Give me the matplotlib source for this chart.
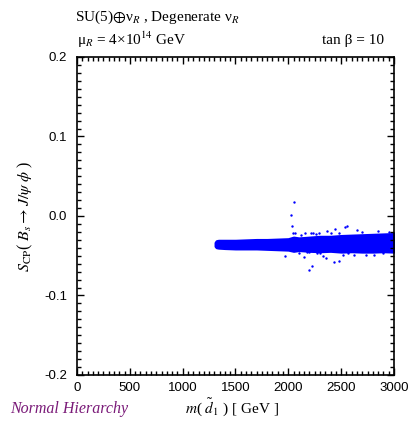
import matplotlib
matplotlib.use('Agg')
import matplotlib.pyplot as plt
from matplotlib.ticker import MultipleLocator

# envelope of the dense band of scan points
band_x = [1310, 1320, 1340, 1400, 1500, 1600, 1700, 1800, 1900, 2000, 2050, 2100, 2200,
          2300, 2400, 2500, 2600, 2700, 2800, 2900, 3000]
band_top = [-0.0335, -0.0315, -0.031, -0.031, -0.031, -0.0305, -0.030, -0.030, -0.0295,
            -0.029, -0.027, -0.028, -0.027, -0.026, -0.026, -0.025, -0.0245, -0.024,
            -0.0235, -0.023, -0.0225]
band_bot = [-0.0380, -0.0395, -0.040, -0.0405, -0.041, -0.041, -0.041, -0.0415, -0.042,
            -0.0425, -0.044, -0.043, -0.044, -0.0445, -0.044, -0.045, -0.0445, -0.045,
            -0.045, -0.0445, -0.045]

# isolated points outside the band
out_x = [2056, 2025, 2038, 2047, 2062, 2161, 2214, 2232, 2293, 2363, 2442, 2540, 2555,
         2647, 2120, 2260, 2400, 2480, 2700, 2850, 2950,
         1968, 2151, 2180, 2198, 2196, 2221, 2270, 2331, 2354, 2432, 2477, 2521, 2622,
         2733, 2814, 2100, 2300, 2560, 2900]
out_y = [0.017, 0.001, -0.013, -0.022, -0.022, -0.021, -0.021, -0.022, -0.021, -0.0185,
         -0.0158, -0.0136, -0.012, -0.0175, -0.024, -0.023, -0.022, -0.021, -0.020, -0.019,
         -0.020,
         -0.0507, -0.052, -0.0453, -0.0453, -0.068, -0.0625, -0.047, -0.050, -0.0525,
         -0.058, -0.057, -0.0485, -0.0485, -0.0485, -0.0485, -0.046, -0.047, -0.047, -0.047]

blue = '#0000ff'
serif = ['Liberation Serif', 'DejaVu Serif']
plt.rcParams['mathtext.fontset'] = 'stix'
plt.rcParams['font.family'] = ['Liberation Sans Narrow', 'Liberation Sans', 'DejaVu Sans']

fig = plt.figure(figsize=(4.12, 4.24), dpi=100)
ax = fig.add_axes([0.1869, 0.1156, 0.7694, 0.75])

ax.fill_between(band_x, band_bot, band_top, facecolor=blue, edgecolor=blue,
                linewidth=2.0)
ax.scatter(out_x, out_y, s=3, color=blue, linewidths=0)

ax.set_xlim(0, 3000)
ax.set_ylim(-0.2, 0.2)
ax.xaxis.set_major_locator(MultipleLocator(500))
ax.xaxis.set_minor_locator(MultipleLocator(50))
ax.yaxis.set_major_locator(MultipleLocator(0.1))
ax.yaxis.set_minor_locator(MultipleLocator(0.01))
ax.set_yticks([-0.2, -0.1, 0.0, 0.1, 0.2])
ax.set_yticklabels(['-0.2', '-0.1', '0.0', '0.1', '0.2'])
ax.tick_params(which='both', direction='in', top=True, right=True, width=1.0,
               labelsize=9.5)
ax.tick_params(which='major', length=5)
ax.tick_params(which='minor', length=3)
ax.tick_params(axis='x', pad=5)
ax.tick_params(axis='y', pad=7)
for s in ax.spines.values():
    s.set_linewidth(1.2)

ax.set_ylabel(r'$S_{\rm CP}$( $B_s\rightarrow J/\psi\ \phi$ )', family=serif,
              fontsize=11.5, labelpad=7)

fig.text(0.182, 0.958, r'SU(5)$\oplus$ν$_R$ , Degenerate ν$_R$', family=serif,
         fontsize=11, va='center', ha='left')
fig.text(0.187, 0.905, r'μ$_R$ = 4×10$^{14}$ GeV', family=serif,
         fontsize=11, va='center', ha='left')
fig.text(0.932, 0.905, 'tan β = 10', family=serif,
         fontsize=11, va='center', ha='right')
fig.text(0.563, 0.038, r'$m$( $\tilde{d}_1$ ) [ GeV ]', family=serif,
         fontsize=11, va='center', ha='center')
fig.text(0.024, 0.036, 'Normal Hierarchy', family=serif, style='italic',
         fontsize=11.5, color='#7a1a78', va='center', ha='left')

fig.savefig('out.png', dpi=100)
